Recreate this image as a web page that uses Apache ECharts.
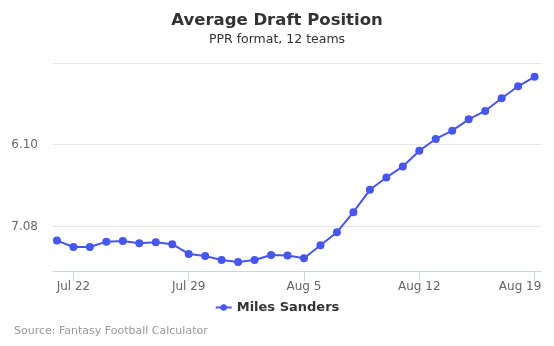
<!DOCTYPE html>
<html>
<head>
<meta charset="utf-8">
<script src="https://cdn.jsdelivr.net/npm/echarts@6/dist/echarts.min.js"></script>
<style>
  html, body { margin: 0; padding: 0; background: #fff; }
  #chart { width: 554px; height: 346px; }
</style>
</head>
<body>
<div id="chart"></div>
<script>
// Daily ADP (overall pick) for Miles Sanders, PPR 12-team leagues
const dates = [
  'Jul 21','Jul 22','Jul 23','Jul 24','Jul 25','Jul 26','Jul 27','Jul 28','Jul 29','Jul 30',
  'Jul 31','Aug 1','Aug 2','Aug 3','Aug 4','Aug 5','Aug 6','Aug 7','Aug 8','Aug 9',
  'Aug 10','Aug 11','Aug 12','Aug 13','Aug 14','Aug 15','Aug 16','Aug 17','Aug 18','Aug 19'
];
const adpPicks = [
  81.74, 82.52, 82.52, 81.87, 81.78, 82.06, 81.94, 82.18, 83.37, 83.62,
  84.11, 84.36, 84.11, 83.50, 83.56, 83.90, 82.31, 80.71, 78.26, 75.52,
  74.01, 72.66, 70.74, 69.30, 68.28, 66.90, 65.87, 64.32, 62.85, 61.69
];
const tickDates = ['Jul 22', 'Jul 29', 'Aug 5', 'Aug 12', 'Aug 19'];
const seriesName = 'Miles Sanders';
const teams = 12;

// overall pick -> "round.pick"
function roundPick(p) {
  const r = Math.floor((p - 1) / teams) + 1;
  const k = p - (r - 1) * teams;
  return r + '.' + String(k).padStart(2, '0');
}

const font = 'DejaVu Sans, sans-serif';
const tickIdx = tickDates.map(d => dates.indexOf(d));
const lastTick = tickIdx[tickIdx.length - 1];

const chart = echarts.init(document.getElementById('chart'), null, { renderer: 'canvas' });
chart.setOption({
  animation: false,
  backgroundColor: '#ffffff',
  title: [
    {
      text: 'Average Draft Position',
      left: 'center', top: 7,
      textStyle: { fontFamily: font, fontSize: 16.5, fontWeight: 'bold', color: '#333333' }
    },
    {
      text: 'PPR format, 12 teams',
      left: 'center', top: 28,
      textStyle: { fontFamily: font, fontSize: 12.5, fontWeight: 'normal', color: '#333333' }
    },
    {
      text: 'Source: Fantasy Football Calculator',
      left: 9, top: 321,
      textStyle: { fontFamily: font, fontSize: 11, fontWeight: 'normal', color: '#999999' }
    }
  ],
  legend: {
    data: [seriesName],
    top: 296, left: 'center',
    itemWidth: 16, itemHeight: 8,
    textStyle: { fontFamily: font, fontSize: 13, fontWeight: 'bold', color: '#333333' }
  },
  grid: { left: 53, right: 13, top: 63, bottom: 75, containLabel: false, outerBoundsMode: 'none' },
  xAxis: {
    type: 'value',
    min: -0.24, max: 29.39,
    splitLine: { show: false },
    axisLine: { show: true, lineStyle: { color: '#ccd6eb', width: 1 } },
    axisTick: { show: true, customValues: tickIdx, length: 10, lineStyle: { color: '#ccd6eb' } },
    axisLabel: {
      customValues: tickIdx,
      // the last date label is kept inside the chart edge
      formatter: v => {
        const i = Math.round(v);
        const s = dates[i] || '';
        return i === lastTick ? '{end|' + s + '}' : s;
      },
      rich: {
        end: { fontFamily: font, fontSize: 12, color: '#666666', padding: [0, 29, 0, 0] }
      },
      fontFamily: font, fontSize: 12, color: '#666666', margin: 10
    }
  },
  yAxis: {
    type: 'value',
    inverse: true,
    min: 60, max: 85.46, interval: 10,
    axisLine: { show: false },
    axisTick: { show: false },
    splitLine: { lineStyle: { color: '#e6e6e6', width: 1 } },
    axisLabel: {
      formatter: v => (v === 70 || v === 80) ? roundPick(v) : '',
      fontFamily: font, fontSize: 12, color: '#666666', margin: 15
    }
  },
  series: [{
    name: seriesName,
    type: 'line',
    data: adpPicks.map((v, i) => [i, v]),
    symbol: 'circle',
    symbolSize: 8,
    lineStyle: { color: '#4656ee', width: 2 },
    itemStyle: { color: '#4656ee' }
  }]
});
</script>
</body>
</html>
